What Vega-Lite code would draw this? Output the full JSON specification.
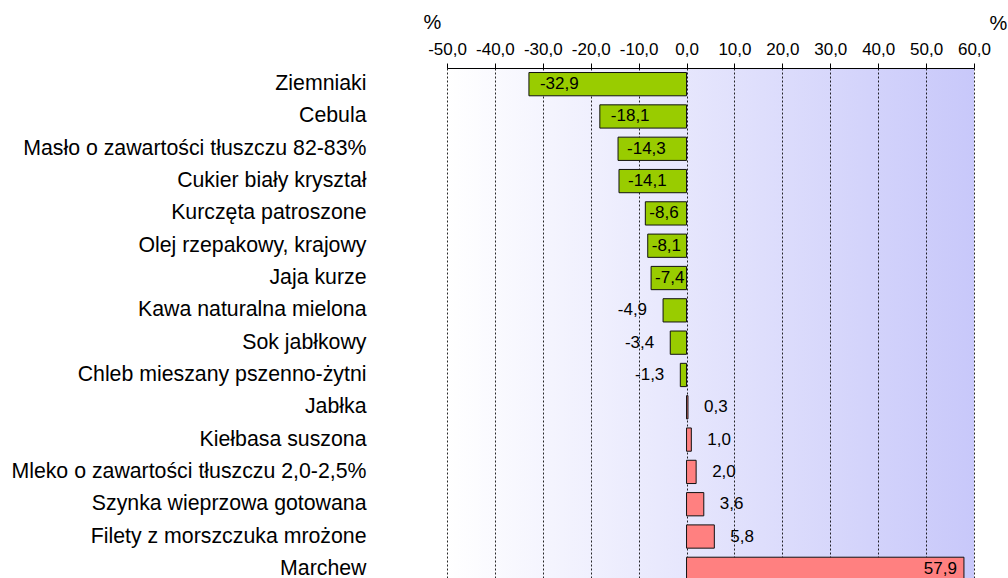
{
  "$schema": "https://vega.github.io/schema/vega-lite/v6.json",
  "width": 527,
  "height": 517,
  "autosize": "none",
  "padding": {"left": 447, "top": 68, "right": 34, "bottom": 0},
  "background": "white",
  "config": {
    "locale": {"number": {"decimal": ",", "thousands": " ", "grouping": [3], "currency": ["", ""], "minus": "-"}},
    "font": "Liberation Sans",
    "view": {
      "stroke": null,
      "fill": {"gradient": "linear", "x1": 0, "y1": 0, "x2": 1, "y2": 0,
        "stops": [{"offset": 0, "color": "#ffffff"}, {"offset": 1, "color": "#c8c8fa"}]}
    }
  },
  "data": {
    "values": [
      {"name": "Ziemniaki", "v": -32.9},
      {"name": "Cebula", "v": -18.1},
      {"name": "Masło o zawartości tłuszczu 82-83%", "v": -14.3},
      {"name": "Cukier biały kryształ", "v": -14.1},
      {"name": "Kurczęta patroszone", "v": -8.6},
      {"name": "Olej rzepakowy, krajowy", "v": -8.1},
      {"name": "Jaja kurze", "v": -7.4},
      {"name": "Kawa naturalna mielona", "v": -4.9},
      {"name": "Sok jabłkowy", "v": -3.4},
      {"name": "Chleb mieszany pszenno-żytni", "v": -1.3},
      {"name": "Jabłka", "v": 0.3},
      {"name": "Kiełbasa suszona", "v": 1.0},
      {"name": "Mleko o zawartości tłuszczu 2,0-2,5%", "v": 2.0},
      {"name": "Szynka wieprzowa gotowana", "v": 3.6},
      {"name": "Filety z morszczuka mrożone", "v": 5.8},
      {"name": "Marchew", "v": 57.9}
    ]
  },
  "encoding": {
    "y": {
      "field": "name", "type": "nominal", "sort": null,
      "scale": {"paddingInner": 0.28, "paddingOuter": 0.14},
      "axis": {"title": null, "domain": false, "ticks": false, "labelFontSize": 21.3, "labelPadding": 81, "labelColor": "#000", "labelLimit": 600}
    }
  },
  "layer": [
    {
      "mark": {"type": "bar", "stroke": "#111", "strokeWidth": 1},
      "encoding": {
        "x": {
          "field": "v", "type": "quantitative",
          "scale": {"domain": [-50, 60], "nice": false},
          "axis": {
            "orient": "top", "values": [-50, -40, -30, -20, -10, 0, 10, 20, 30, 40, 50, 60],
            "format": ".1f", "labelFontSize": 17, "labelColor": "#000", "labelPadding": 5, "labelOverlap": false, "labelFlush": false,
            "tickColor": "#000", "tickSize": 5, "domainColor": "#000",
            "grid": true, "gridColor": "#000", "gridDash": [2, 2], "gridOpacity": 0.85,
            "title": "%", "titleFontSize": 20, "titleFontWeight": "normal", "titleColor": "#000",
            "titleX": -15, "titleY": -46, "titleAlign": "center", "titleBaseline": "middle", "titleAngle": 0
          }
        },
        "color": {"condition": {"test": "datum.v < 0", "value": "#99cc00"}, "value": "#ff8080"}
      }
    },
    {
      "transform": [{"filter": "datum.v < -15"}],
      "mark": {"type": "text", "align": "left", "baseline": "middle", "dx": 11, "fontSize": 17, "color": "#000"},
      "encoding": {
        "x": {
          "field": "v", "type": "quantitative",
          "axis": {
            "orient": "top", "labels": false, "ticks": false, "domain": false, "grid": false,
            "title": "%", "titleFontSize": 20, "titleFontWeight": "normal", "titleColor": "#000",
            "titleX": 551, "titleY": -45, "titleAlign": "center", "titleBaseline": "middle", "titleAngle": 0
          }
        },
        "text": {"field": "v", "type": "quantitative", "format": ".1f"}
      }
    },
    {
      "transform": [{"filter": "datum.v >= -15 && datum.v < -10"}],
      "mark": {"type": "text", "align": "left", "baseline": "middle", "dx": 9, "fontSize": 17, "color": "#000"},
      "encoding": {
        "x": {"field": "v", "type": "quantitative", "axis": null},
        "text": {"field": "v", "type": "quantitative", "format": ".1f"}
      }
    },
    {
      "transform": [{"filter": "datum.v >= -10 && datum.v < -5"}],
      "mark": {"type": "text", "align": "left", "baseline": "middle", "dx": 4, "fontSize": 17, "color": "#000"},
      "encoding": {
        "x": {"field": "v", "type": "quantitative", "axis": null},
        "text": {"field": "v", "type": "quantitative", "format": ".1f"}
      }
    },
    {
      "transform": [{"filter": "datum.v >= -5 && datum.v < 0"}],
      "mark": {"type": "text", "align": "right", "baseline": "middle", "dx": -16, "fontSize": 17, "color": "#000"},
      "encoding": {
        "x": {"field": "v", "type": "quantitative", "axis": null},
        "text": {"field": "v", "type": "quantitative", "format": ".1f"}
      }
    },
    {
      "transform": [{"filter": "datum.v > 0 && datum.v < 50"}],
      "mark": {"type": "text", "align": "left", "baseline": "middle", "dx": 16, "fontSize": 17, "color": "#000"},
      "encoding": {
        "x": {"field": "v", "type": "quantitative", "axis": null},
        "text": {"field": "v", "type": "quantitative", "format": ".1f"}
      }
    },
    {
      "transform": [{"filter": "datum.v >= 50"}],
      "mark": {"type": "text", "align": "right", "baseline": "middle", "dx": -7, "fontSize": 17, "color": "#000"},
      "encoding": {
        "x": {"field": "v", "type": "quantitative", "axis": null},
        "text": {"field": "v", "type": "quantitative", "format": ".1f"}
      }
    }
  ],
  "resolve": {"axis": {"x": "independent"}}
}
